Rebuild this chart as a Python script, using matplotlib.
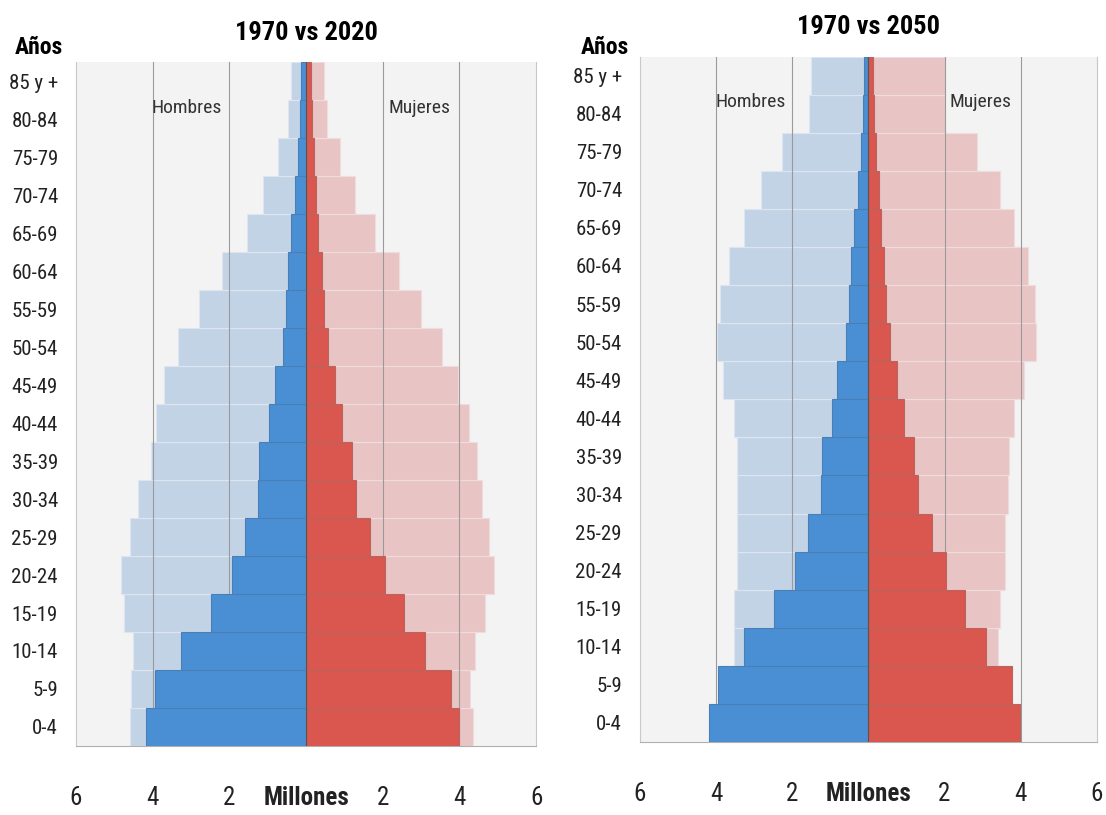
import matplotlib
matplotlib.use("Agg")
import matplotlib.pyplot as plt
import numpy as np

plt.rcParams['font.family'] = ['Roboto Condensed', 'DejaVu Sans']

# age groups, bottom to top
groups = ['0-4', '5-9', '10-14', '15-19', '20-24', '25-29', '30-34', '35-39',
          '40-44', '45-49', '50-54', '55-59', '60-64', '65-69', '70-74',
          '75-79', '80-84', '85 y +']

# millions of people
men_1970 = [4.18, 3.94, 3.27, 2.47, 1.93, 1.59, 1.24, 1.22, 0.97, 0.82,
            0.60, 0.52, 0.47, 0.38, 0.28, 0.20, 0.15, 0.12]
women_1970 = [3.98, 3.77, 3.10, 2.55, 2.05, 1.67, 1.30, 1.20, 0.94, 0.76,
              0.57, 0.46, 0.42, 0.32, 0.27, 0.20, 0.15, 0.12]

men_2020 = [4.59, 4.56, 4.50, 4.74, 4.83, 4.59, 4.38, 4.04, 3.92, 3.70,
            3.33, 2.80, 2.19, 1.55, 1.12, 0.73, 0.47, 0.39]
women_2020 = [4.35, 4.28, 4.40, 4.68, 4.89, 4.77, 4.60, 4.47, 4.24, 3.97,
              3.55, 3.00, 2.42, 1.80, 1.28, 0.88, 0.55, 0.46]

men_2050 = [3.40, 3.45, 3.54, 3.52, 3.45, 3.45, 3.45, 3.45, 3.52, 3.81,
            3.99, 3.90, 3.67, 3.28, 2.81, 2.26, 1.55, 1.50]
women_2050 = [3.45, 3.50, 3.40, 3.46, 3.58, 3.60, 3.67, 3.70, 3.83, 4.10,
              4.40, 4.38, 4.20, 3.83, 3.46, 2.86, 2.02, 2.02]

xticks = [-6, -4, -2, 0, 2, 4, 6]
xtick_labels = ['6', '4', '2', 'Millones', '2', '4', '6']

DARK_BLUE = "#4a8fd4"
DARK_RED = "#d9574f"
LIGHT_BLUE = "#c3d3e6"
LIGHT_RED = "#e8c5c4"


def pyramid(ax, title, men_new, women_new):
    y = np.arange(len(groups))

    ax.set_facecolor("#f3f3f3")

    # newer year behind
    ax.barh(y, -np.array(men_new), height=1.0, color=LIGHT_BLUE,
            edgecolor="#dde6f0", linewidth=0.8, zorder=1)
    ax.barh(y, women_new, height=1.0, color=LIGHT_RED,
            edgecolor="#f0dcdc", linewidth=0.8, zorder=1)

    for gx in [-4, -2, 2, 4]:
        ax.axvline(gx, color="#9a9a9a", linewidth=0.8, zorder=2)

    # 1970 in front
    ax.barh(y, -np.array(men_1970), height=1.0, color=DARK_BLUE,
            edgecolor="#4a7fb5", linewidth=0.8, zorder=3)
    ax.barh(y, women_1970, height=1.0, color=DARK_RED,
            edgecolor="#b86560", linewidth=0.8, zorder=3)
    ax.axvline(0, color="#555555", linewidth=0.8, zorder=4)

    ax.set_xlim(-6, 6)
    ax.set_ylim(-0.5, len(groups) - 0.5)

    ax.set_yticks(y)
    ax.set_yticklabels(groups, fontsize=15, color="#222222")
    ax.set_xticks(xticks)
    ax.set_xticklabels(xtick_labels, fontsize=18, color="#222222")
    ax.get_xticklabels()[3].set_fontweight("bold")
    ax.tick_params(axis="x", length=0, pad=29)
    ax.tick_params(axis="y", length=0, pad=13)

    for s in ["left", "right"]:
        ax.spines[s].set_color("#c8c8c8")
    ax.spines["top"].set_visible(False)
    ax.spines["bottom"].set_color("#b0b0b0")

    ax.set_title(title, fontsize=19, fontweight="bold", pad=16)

    ax.text(-3.1, 16.3, "Hombres", fontsize=14, ha="center", va="center",
            color="#333333", zorder=5)
    ax.text(2.95, 16.3, "Mujeres", fontsize=14, ha="center", va="center",
            color="#333333", zorder=5)


fig = plt.figure(figsize=(11.06, 8.15), dpi=100)

ax1 = fig.add_axes([0.0687, 0.0847, 0.416, 0.839])
pyramid(ax1, "1970 vs 2020", men_2020, women_2020)

ax2 = fig.add_axes([0.5787, 0.0896, 0.413, 0.841])
pyramid(ax2, "1970 vs 2050", men_2050, women_2050)

fig.text(0.013, 0.942, "Años", fontsize=17, fontweight="bold", va="center")
fig.text(0.525, 0.942, "Años", fontsize=17, fontweight="bold", va="center")

fig.savefig("out.png", dpi=100)
plt.close(fig)
